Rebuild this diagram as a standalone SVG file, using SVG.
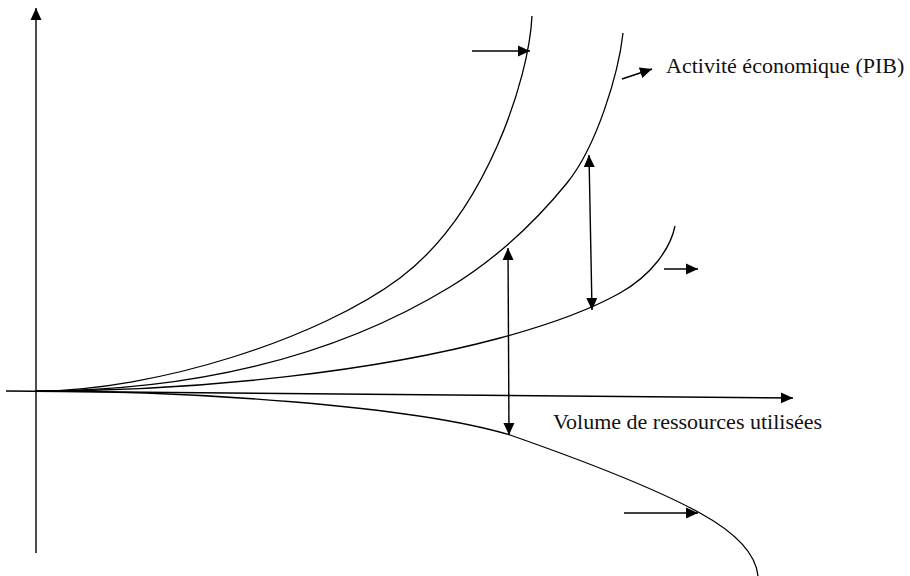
<svg xmlns="http://www.w3.org/2000/svg" width="910" height="576" viewBox="0 0 910 576">
<defs>
<marker id="ah" viewBox="0 0 12 12" refX="12" refY="6" markerWidth="12" markerHeight="12" markerUnits="userSpaceOnUse" orient="auto-start-reverse">
<path d="M0,0.5 L12,6 L0,11.5 Z" fill="#000"/>
</marker>
<style>
.c{fill:none;stroke:#000;stroke-width:1.3}
.a{fill:none;stroke:#000;stroke-width:1.4;marker-end:url(#ah)}
.d{fill:none;stroke:#000;stroke-width:1.4;marker-end:url(#ah);marker-start:url(#ah)}
.t{font-family:"Liberation Serif","Times New Roman",serif;font-size:22px;fill:#111}
</style>
</defs>
<rect width="910" height="576" fill="#fff"/>
<g id="axes">
<path class="a" d="M36,553 L36,8"/>
<path class="a" d="M6,391 L793,398"/>
</g>
<g id="curves">
<path id="curve1" class="c" d="M36,391 C156,391 320,338 400,278 C485,214 529,80 532,16"/>
<path id="curve2" class="c" d="M36,391 C186,391 330,360.2 450,287 C490,262.6 532,226 567,183 C597,146 618.6,73 623,33"/>
<path id="curve3" class="c" d="M36,391 C206,391 380,370.4 500,338 C540,327.2 585,312.6 620,293 C652,275 670.6,248 675,226"/>
<path id="curve4" class="c" d="M36,391 C186,391 410,405 510,435 C560,452.5 650,485.5 700,513 C730,529.5 755.5,551 758,576"/>
</g>
<g id="connectors">
<path class="a" d="M472,51 L530,51"/>
<path class="a" d="M622,79 L652,69"/>
<path class="a" d="M664,269 L698,269"/>
<path class="a" d="M624,513 L698,513"/>
<path class="d" d="M508,248 L509,435"/>
<path class="d" d="M589,155 L592,310"/>
</g>
<g id="labels">
<text class="t" x="666" y="73">Activité économique (PIB)</text>
<text class="t" x="553" y="429">Volume de ressources utilisées</text>
</g>
</svg>
